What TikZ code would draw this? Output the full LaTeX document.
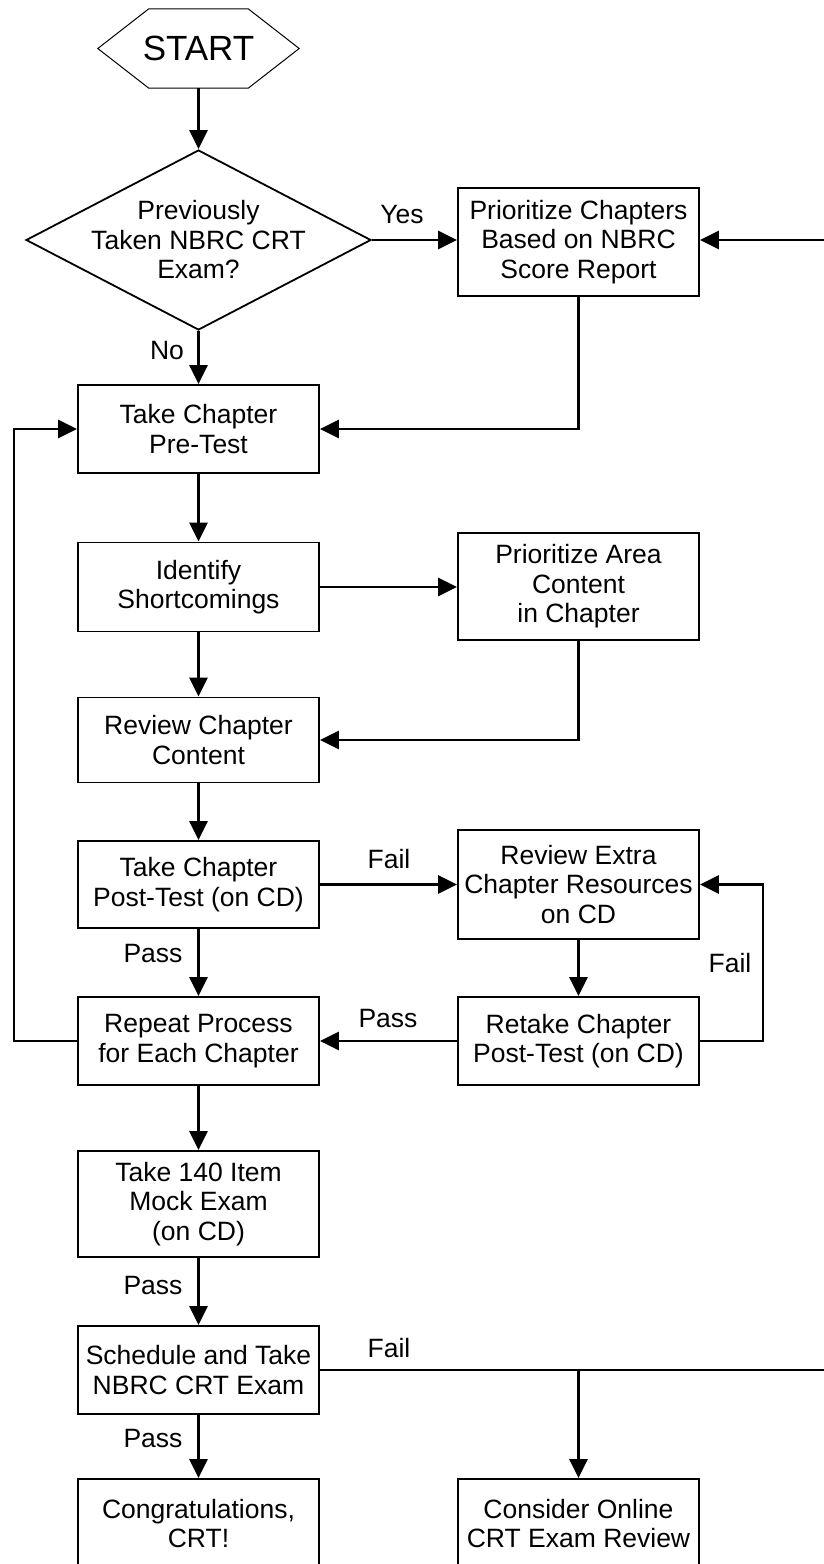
\documentclass[tikz,border=0pt]{standalone}
\usepackage{fontspec}
\setmainfont{Liberation Sans}
\usetikzlibrary{arrows.meta,shapes.geometric}
\begin{document}
\begin{tikzpicture}[x=1pt,y=-1pt,
  txt/.style={font=\fontsize{26.5}{29.5}\selectfont},
  box/.style={txt, draw, line width=1.8pt, minimum width=241pt, align=center, inner sep=0pt},
  lbl/.style={txt, inner sep=0pt},
  conn/.style={line width=2.9pt, -{Triangle[length=19pt,width=18pt]}},
  plain/.style={line width=2.9pt}]
\useasboundingbox (0,0) rectangle (823,1564);

% start hexagon
\node[font=\fontsize{35}{40}\selectfont, minimum width=201pt, minimum height=79pt, inner sep=0pt] (start) at (198.5,48.5) {START};
\draw[line width=1pt] (start.west) -- ([xshift=51pt]start.north west) -- ([xshift=-51pt]start.north east)
  -- (start.east) -- ([xshift=-51pt]start.south east) -- ([xshift=51pt]start.south west) -- cycle;

% decision
\node[txt, diamond, draw, line width=1.8pt, aspect=1.917, minimum width=345pt, minimum height=180pt,
  inner sep=-7pt, align=center] (q) at (198.5,240) {Previously\\Taken NBRC CRT\\Exam?};

% boxes
\node[box, minimum height=108pt] (p1)   at (578.5,242)   {Prioritize Chapters\\Based on NBRC\\Score Report};
\node[box, minimum height=88pt]  (pre)  at (198.5,429)   {Take Chapter\\Pre-Test};
\node[box, minimum height=89pt]  (id)   at (198.5,587)   {Identify\\Shortcomings};
\node[box, minimum height=107pt] (pa)   at (578.5,586.5) {Prioritize Area\\Content\\in Chapter};
\node[box, minimum height=85pt]  (rev)  at (198.5,740)   {Review Chapter\\Content};
\node[box, minimum height=87pt]  (post) at (198.5,884.5) {Take Chapter\\Post-Test (on CD)};
\node[box, minimum height=109pt] (rx)   at (578.5,884.5) {Review Extra\\Chapter Resources\\on CD};
\node[box, minimum height=88pt]  (ret)  at (578.5,1041)  {Retake Chapter\\Post-Test (on CD)};
\node[box, minimum height=88pt]  (rep)  at (198.5,1041)  {Repeat Process\\for Each Chapter};
\node[box, minimum height=106pt] (mock) at (198.5,1204)  {Take 140 Item\\Mock Exam\\(on CD)};
\node[box, minimum height=88pt]  (sch)  at (198.5,1370)  {Schedule and Take\\NBRC CRT Exam};
\node[box, minimum height=89pt]  (cong) at (198.5,1523.5){Congratulations,\\CRT!};
\node[box, minimum height=89pt]  (cons) at (578.5,1523.5){Consider Online\\CRT Exam Review};

% helper coordinates
\coordinate (r1) at (830,240);
\coordinate (r2) at (830,1370);
\coordinate (lx) at (14,0);
\coordinate (fx) at (763,0);
\coordinate (br) at (578.5,1370);

% connectors
\draw[conn] (start.south) -- (q.north);
\draw[conn] (q.east) -- (q.east -| p1.west);
\draw[conn] (r1) -- (r1 -| p1.east);
\draw[conn] (q.south) -- (pre.north);
\draw[conn] (p1.south) |- (pre.east);
\draw[conn] (rep.west) -- (rep.west -| lx) |- (pre.west);
\draw[conn] (pre.south) -- (id.north);
\draw[conn] (id.east) -- (id.east -| pa.west);
\draw[conn] (id.south) -- (rev.north);
\draw[conn] (pa.south) |- (rev.east);
\draw[conn] (rev.south) -- (post.north);
\draw[conn] (post.east) -- (rx.west);
\draw[conn] (rx.south) -- (ret.north);
\draw[conn] (ret.east) -- (ret.east -| fx) |- (rx.east);
\draw[conn] (ret.west) -- (rep.east);
\draw[conn] (post.south) -- (rep.north);
\draw[conn] (rep.south) -- (mock.north);
\draw[conn] (mock.south) -- (sch.north);
\draw[plain] (sch.east) -- (r2);
\draw[conn] (br) -- (cons.north);
\draw[conn] (sch.south) -- (cong.north);

% labels
\node[lbl] (lyes) at (402,215) {Yes};
\node[lbl] (lno) at (167,351) {No};
\node[lbl] (lf1) at (389,859) {Fail};
\node[lbl] (lp1) at (153,954) {Pass};
\node[lbl] (lf2) at (730,963) {Fail};
\node[lbl] (lp2) at (388,1018) {Pass};
\node[lbl] (lp3) at (153,1285) {Pass};
\node[lbl] (lf3) at (389,1348) {Fail};
\node[lbl] (lp4) at (153,1438) {Pass};
\end{tikzpicture}
\end{document}
